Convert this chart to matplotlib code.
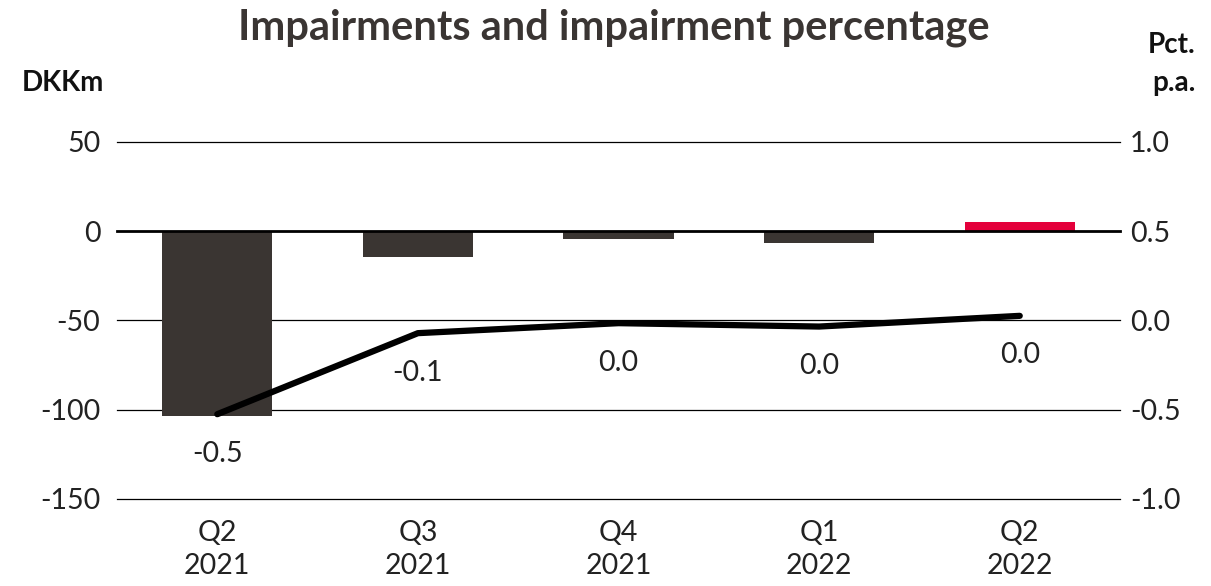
"""Impairments (bars, DKKm) and impairment percentage (line, pct. p.a.)."""

import matplotlib

matplotlib.use("Agg")
import matplotlib.pyplot as plt
import numpy as np

QUARTERS = ["Q2\n2021", "Q3\n2021", "Q4\n2021", "Q1\n2022", "Q2\n2022"]
IMPAIRMENTS_DKKM = [-103.5, -14.5, -4.4, -6.7, 4.9]
IMPAIRMENT_PCT = [-0.525, -0.071, -0.015, -0.034, 0.026]
PCT_LABELS = ["-0.5", "-0.1", "0.0", "0.0", "0.0"]

LEFT_TICKS = [50, 0, -50, -100, -150]
RIGHT_TICKS = [1.0, 0.5, 0.0, -0.5, -1.0]

DARK = "#3a3532"
RED = "#e4003b"
TEXT = "#222222"

plt.rcParams["font.family"] = ["Lato", "DejaVu Sans"]

fig = plt.figure(figsize=(12.11, 5.86), dpi=100)
ax = fig.add_axes([0.0966, 0.1485, 0.8283, 0.6092])
x = np.arange(len(QUARTERS))

colors = [DARK] * (len(QUARTERS) - 1) + [RED]
ax.bar(x, IMPAIRMENTS_DKKM, width=0.55, color=colors, zorder=2)

for tick in LEFT_TICKS:
    ax.axhline(tick, color="#000000", linewidth=2.0 if tick == 0 else 0.9,
               zorder=3 if tick == 0 else 1, clip_on=False)

ax.set_xlim(-0.5, 4.5)
ax.set_ylim(-150, 50)
ax.set_yticks(LEFT_TICKS)
ax.set_yticklabels([str(t) for t in LEFT_TICKS])
ax.set_xticks(x)
ax.set_xticklabels(QUARTERS, linespacing=1.35)
ax.tick_params(axis="both", length=0, labelsize=20.5, colors=TEXT)
ax.tick_params(axis="y", pad=12)
ax.tick_params(axis="x", pad=15)
for spine in ax.spines.values():
    spine.set_visible(False)

ax2 = ax.twinx()
ax2.set_ylim(-1.0, 1.0)
ax2.set_yticks(RIGHT_TICKS)
ax2.set_yticklabels([f"{t:.1f}" for t in RIGHT_TICKS])
ax2.tick_params(axis="y", length=0, labelsize=20.5, colors=TEXT, pad=7)
for spine in ax2.spines.values():
    spine.set_visible(False)
ax2.plot(x, IMPAIRMENT_PCT, color="#000000", linewidth=4.5, solid_capstyle="round", zorder=4)
for xi, yi, label in zip(x, IMPAIRMENT_PCT, PCT_LABELS):
    ax2.annotate(label, (xi, yi), xytext=(0, -19), textcoords="offset points",
                 ha="center", va="top", fontsize=20.5, color=TEXT)

fig.text(0.507, 0.952, "Impairments and impairment percentage", ha="center", va="center",
         fontsize=30, fontweight="bold", color="#3a3533")
fig.text(0.018, 0.858, "DKKm", ha="left", va="center", fontsize=20, fontweight="bold", color="#111111")
fig.text(0.987, 0.923, "Pct.", ha="right", va="center", fontsize=20, fontweight="bold", color="#111111")
fig.text(0.987, 0.858, "p.a.", ha="right", va="center", fontsize=20, fontweight="bold", color="#111111")

fig.savefig("out.png", dpi=100)
